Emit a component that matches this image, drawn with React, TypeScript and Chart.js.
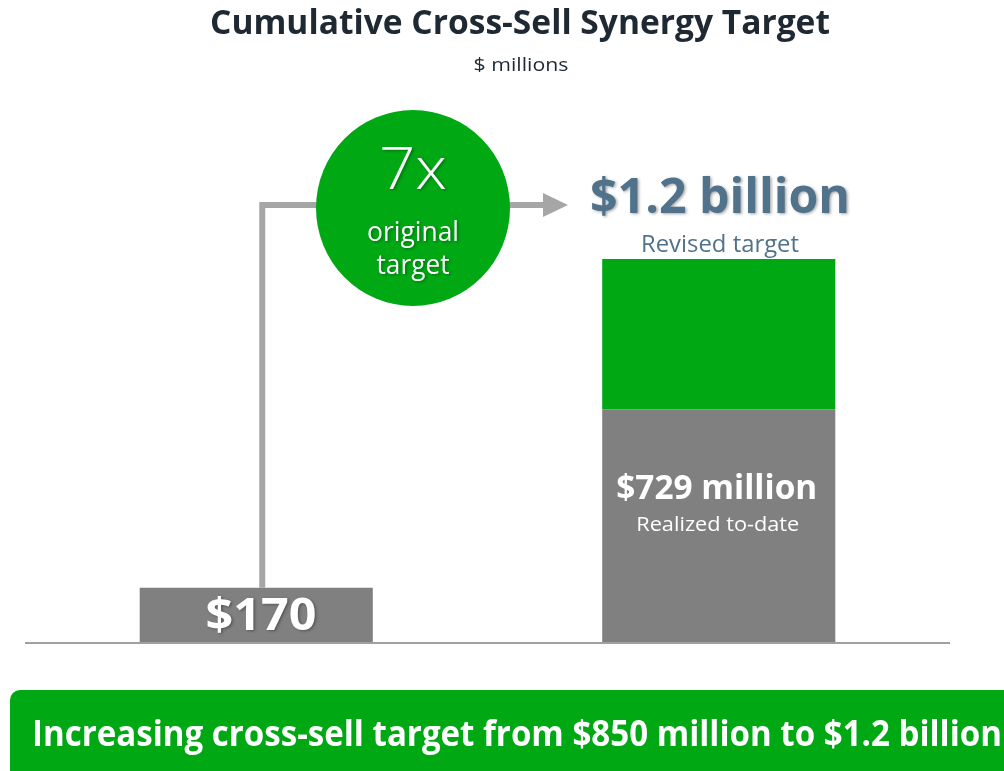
import React, { useEffect, useRef } from "react";
import { Chart, registerables } from "chart.js";

Chart.register(...registerables);

const categories = ["Original target", "Revised target"];
const realizedValues = [170, 729];
const remainingValues = [0, 471];
const yMax = 1200;

const titleText = "Cumulative Cross-Sell Synergy Target";
const subtitleText = "$ millions";
const multipleText = "7x";
const multipleSub = ["original", "target"];
const revisedValueText = "$1.2 billion";
const revisedLabelText = "Revised target";
const originalValueText = "$170";
const realizedValueText = "$729 million";
const realizedLabelText = "Realized to-date";
const bannerText = "Increasing cross-sell target from $850 million to $1.2 billion";

const GREEN = "#00a814";
const GRAY = "#808080";
const LINE_GRAY = "#a6a6a6";
const FONT = "'Open Sans', 'Noto Sans', sans-serif";

function drawText(
  ctx: CanvasRenderingContext2D,
  text: string,
  x: number,
  y: number,
  size: number,
  weight: string,
  color: string,
  align: "center" | "left",
  width: number,
  shadow: boolean
) {
  ctx.save();
  ctx.font = `${weight} ${size}px ${FONT}`;
  ctx.textBaseline = "middle";
  ctx.textAlign = "left";
  const w = ctx.measureText(text).width;
  const sx = width / w;
  const left = align === "center" ? x - width / 2 : x;
  if (shadow) {
    ctx.shadowColor = "rgba(0,0,0,0.35)";
    ctx.shadowBlur = 3;
    ctx.shadowOffsetX = 1.5;
    ctx.shadowOffsetY = 1.5;
  }
  ctx.translate(left, y);
  ctx.scale(sx, 1);
  ctx.fillStyle = color;
  ctx.fillText(text, 0, 0);
  ctx.restore();
}

const decorPlugin = {
  id: "decor",
  beforeDatasetsDraw(chart: any) {
    const ctx: CanvasRenderingContext2D = chart.ctx;
    const { chartArea } = chart;
    const y0 = chart.scales.y.getPixelForValue(0);
    ctx.save();
    ctx.strokeStyle = "#a0a0a0";
    ctx.lineWidth = 2;
    ctx.beginPath();
    ctx.moveTo(chartArea.left, y0 + 1);
    ctx.lineTo(chartArea.right, y0 + 1);
    ctx.stroke();
    ctx.restore();
  },
  afterDatasetsDraw(chart: any) {
    const ctx: CanvasRenderingContext2D = chart.ctx;
    const bar1 = chart.getDatasetMeta(0).data[0];
    const bar2bottom = chart.getDatasetMeta(0).data[1];

    // title
    drawText(ctx, titleText, 520, 24, 34, "bold", "#1f2933", "center", 620, false);
    drawText(ctx, subtitleText, 521, 66, 19, "normal", "#1f2933", "center", 95, false);

    // connector
    const lx = bar1.x + 6;
    const ly = 205;
    ctx.save();
    ctx.strokeStyle = LINE_GRAY;
    ctx.lineWidth = 6;
    ctx.beginPath();
    ctx.moveTo(lx, bar1.y);
    ctx.lineTo(lx, ly);
    ctx.lineTo(548, ly);
    ctx.stroke();
    ctx.fillStyle = LINE_GRAY;
    ctx.beginPath();
    ctx.moveTo(543, ly - 12);
    ctx.lineTo(568, ly);
    ctx.lineTo(543, ly + 12);
    ctx.closePath();
    ctx.fill();
    ctx.restore();

    // circle
    ctx.save();
    ctx.fillStyle = GREEN;
    ctx.beginPath();
    ctx.ellipse(413, 208, 97, 98, 0, 0, Math.PI * 2);
    ctx.fill();
    ctx.restore();
    drawText(ctx, multipleText, 413, 172, 58, "300", "#ffffff", "center", 68, true);
    drawText(ctx, multipleSub[0], 413, 233, 27, "normal", "#ffffff", "center", 92, true);
    drawText(ctx, multipleSub[1], 413, 266, 27, "normal", "#ffffff", "center", 73, true);

    // revised target
    drawText(ctx, revisedValueText, 720, 199, 49, "bold", "#50728a", "center", 260, true);
    drawText(ctx, revisedLabelText, 720, 245, 23, "normal", "#50728a", "center", 158, false);

    // bar labels
    drawText(ctx, originalValueText, 261, 617, 45, "bold", "#ffffff", "center", 111, true);
    const cx2 = bar2bottom.x;
    drawText(ctx, realizedValueText, cx2 - 2, 489, 34, "bold", "#ffffff", "center", 201, false);
    drawText(ctx, realizedLabelText, cx2 - 1, 525, 20, "normal", "#ffffff", "center", 163, false);

    // banner
    ctx.save();
    ctx.fillStyle = GREEN;
    const bx = 10, by = 690, bw = 1020, bh = 100, r = 10;
    ctx.beginPath();
    ctx.moveTo(bx + r, by);
    ctx.lineTo(bx + bw, by);
    ctx.lineTo(bx + bw, by + bh);
    ctx.lineTo(bx + r, by + bh);
    ctx.arcTo(bx, by + bh, bx, by + bh - r, r);
    ctx.lineTo(bx, by + r);
    ctx.arcTo(bx, by, bx + r, by, r);
    ctx.closePath();
    ctx.fill();
    ctx.restore();
    drawText(ctx, bannerText, 32, 736, 35, "bold", "#ffffff", "left", 970, false);
  },
};

export default function App() {
  const ref = useRef<HTMLCanvasElement | null>(null);
  useEffect(() => {
    document.body.style.margin = "0";
    if (!ref.current) return;
    const chart = new Chart(ref.current, {
      type: "bar",
      data: {
        labels: categories,
        datasets: [
          {
            label: "Realized",
            data: realizedValues,
            backgroundColor: GRAY,
            borderWidth: 0,
            categoryPercentage: 1,
            barPercentage: 0.504,
          },
          {
            label: "Remaining",
            data: remainingValues,
            backgroundColor: GREEN,
            borderWidth: 0,
            categoryPercentage: 1,
            barPercentage: 0.504,
          },
        ],
      },
      options: {
        animation: false,
        responsive: false,
        maintainAspectRatio: false,
        layout: { padding: { left: 25, right: 54, top: 259, bottom: 129 } },
        plugins: { legend: { display: false }, tooltip: { enabled: false }, title: { display: false } },
        scales: {
          x: { stacked: true, display: false },
          y: { stacked: true, display: false, min: 0, max: yMax },
        },
      },
      plugins: [decorPlugin],
    });
    return () => chart.destroy();
  }, []);
  return (
    <div style={{ position: "fixed", left: 0, top: 0, width: 1004, height: 771, background: "#fff" }}>
      <canvas ref={ref} width={1004} height={771} style={{ width: 1004, height: 771 }} />
    </div>
  );
}
